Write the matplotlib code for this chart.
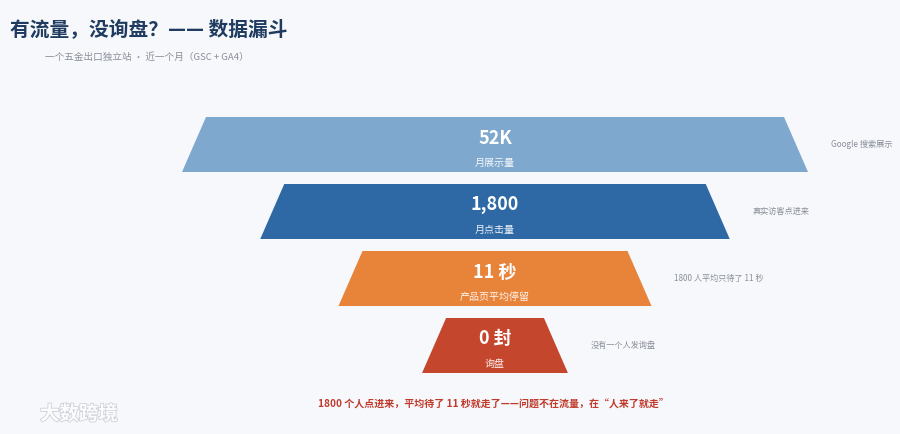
import matplotlib
matplotlib.use("Agg")
import matplotlib.pyplot as plt
from matplotlib.patches import Polygon
import matplotlib.patheffects as pe

plt.rcParams['font.family'] = ['Noto Sans CJK SC', 'DejaVu Sans']

# ---- data ----
stages = ["月展示量", "月点击量", "产品页平均停留", "询盘"]
value_labels = ["52K", "1,800", "11 秒", "0 封"]
annotations = ["Google 搜索展示", "真实访客点进来", "1800 人平均只待了 11 秒", "没有一个人发询盘"]
funnel_widths = [1.0, 0.75, 0.5, 0.233]   # relative width of each funnel layer
colors = ["#7ea8cd", "#2e69a5", "#e8833a", "#c4472d"]

title = "有流量，没询盘？—— 数据漏斗"
subtitle = "一个五金出口独立站 · 近一个月（GSC + GA4）"
footnote = "1800 个人点进来，平均待了 11 秒就走了——问题不在流量，在“人来了就走”"

W, H = 900, 434
fig = plt.figure(figsize=(W / 100, H / 100), dpi=100)
bg = "#f6f8fb"
fig.patch.set_facecolor(bg)
ax = fig.add_axes([0, 0, 1, 1])
ax.set_xlim(0, W)
ax.set_ylim(H, 0)
ax.axis("off")
ax.set_facecolor(bg)

cx = 495
full_w = 626
row_h = 55
gap = 12
top0 = 117
inset = 24

for i, (st, vl, an, fw, c) in enumerate(zip(stages, value_labels, annotations, funnel_widths, colors)):
    y0 = top0 + i * (row_h + gap)
    y1 = y0 + row_h
    bw = full_w * fw
    tw = bw - 2 * inset
    poly = Polygon([(cx - tw / 2, y0), (cx + tw / 2, y0), (cx + bw / 2, y1), (cx - bw / 2, y1)],
                   closed=True, facecolor=c, edgecolor="none")
    ax.add_patch(poly)
    ax.text(cx, y0 + 21, vl, ha="center", va="center", color="white",
            fontsize=13, fontweight="bold")
    ax.text(cx, y0 + 46, st, ha="center", va="center", color="white", fontsize=7.2, alpha=0.92)
    ax.text(cx + bw / 2 + 23, y0 + 27, an, ha="left", va="center", color="#8a8f99", fontsize=5.9)

ax.text(10, 30, title, ha="left", va="center", color="#1f3b60", fontsize=14.2, fontweight="bold")
ax.text(45, 57, subtitle, ha="left", va="center", color="#8a8f99", fontsize=6.9)
ax.text(493, 403, footnote, ha="center", va="center", color="#c0392b", fontsize=7.2, fontweight="bold")

# watermark
ax.text(40, 414, "大数跨境", ha="left", va="center", color="white", fontsize=14, fontweight="bold",
        path_effects=[pe.withStroke(linewidth=1.2, foreground="#c9ced6")], alpha=0.95)

fig.savefig("out.png", dpi=100, facecolor=bg)
